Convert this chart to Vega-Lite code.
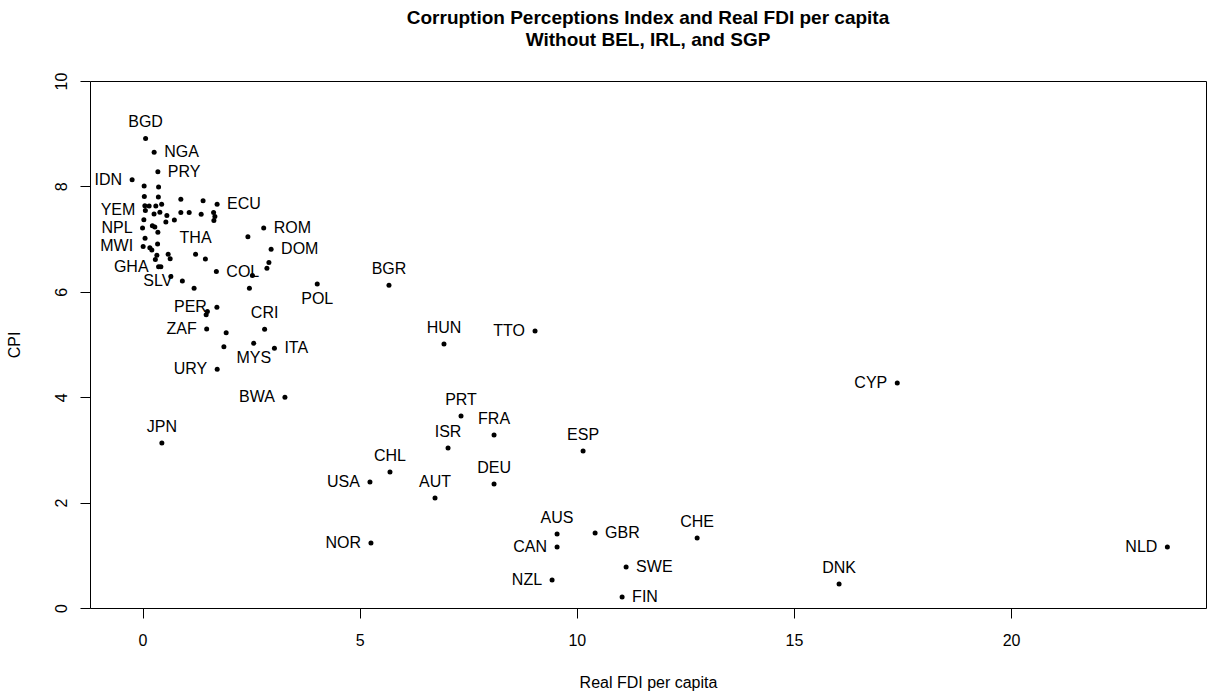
{
  "$schema": "https://vega.github.io/schema/vega-lite/v6.json",
  "width": 1116,
  "height": 527,
  "autosize": {"type": "none"},
  "padding": {"left": 90, "top": 81, "right": 4, "bottom": 88},
  "background": "white",
  "config": {
    "font": "Liberation Sans",
    "view": {"stroke": "black", "strokeWidth": 1},
    "axis": {"grid": false, "domain": false, "tickColor": "black", "tickSize": 10, "labelColor": "black", "labelFontSize": 16, "labelFont": "Liberation Sans", "titleFont": "Liberation Sans", "titleFontSize": 16, "titleFontWeight": "normal", "titleColor": "black"}
  },
  "title": {
    "text": ["Corruption Perceptions Index and Real FDI per capita", "Without BEL, IRL, and SGP"],
    "font": "Liberation Sans",
    "fontSize": 19,
    "fontWeight": "bold",
    "lineHeight": 22,
    "anchor": "middle",
    "frame": "group",
    "offset": 22,
    "color": "black"
  },
  "data": {"values": [
    {"country": "BGD", "fdi": 0.07, "cpi": 8.91},
    {"country": "NGA", "fdi": 0.267, "cpi": 8.647},
    {"country": "PRY", "fdi": 0.353, "cpi": 8.279},
    {"country": "IDN", "fdi": -0.24, "cpi": 8.127},
    {"country": "", "fdi": 0.037, "cpi": 8.008},
    {"country": "", "fdi": 0.369, "cpi": 7.989},
    {"country": "", "fdi": 0.041, "cpi": 7.808},
    {"country": "", "fdi": 0.364, "cpi": 7.799},
    {"country": "", "fdi": 0.882, "cpi": 7.757},
    {"country": "", "fdi": 1.394, "cpi": 7.729},
    {"country": "ECU", "fdi": 1.717, "cpi": 7.662},
    {"country": "", "fdi": 0.053, "cpi": 7.634},
    {"country": "", "fdi": 0.152, "cpi": 7.628},
    {"country": "", "fdi": 0.306, "cpi": 7.628},
    {"country": "", "fdi": 0.44, "cpi": 7.66},
    {"country": "YEM", "fdi": 0.065, "cpi": 7.543},
    {"country": "", "fdi": 0.265, "cpi": 7.476},
    {"country": "", "fdi": 0.399, "cpi": 7.509},
    {"country": "", "fdi": 0.56, "cpi": 7.448},
    {"country": "", "fdi": 0.882, "cpi": 7.505},
    {"country": "", "fdi": 1.074, "cpi": 7.505},
    {"country": "", "fdi": 1.35, "cpi": 7.473},
    {"country": "", "fdi": 1.636, "cpi": 7.505},
    {"country": "", "fdi": 1.666, "cpi": 7.429},
    {"country": "", "fdi": 0.03, "cpi": 7.368},
    {"country": "", "fdi": 0.537, "cpi": 7.324},
    {"country": "", "fdi": 0.733, "cpi": 7.362},
    {"country": "", "fdi": 1.643, "cpi": 7.353},
    {"country": "NPL", "fdi": 0.0, "cpi": 7.211},
    {"country": "", "fdi": 0.226, "cpi": 7.254},
    {"country": "", "fdi": 0.283, "cpi": 7.23},
    {"country": "", "fdi": 0.353, "cpi": 7.129},
    {"country": "", "fdi": 0.058, "cpi": 7.015},
    {"country": "", "fdi": 0.346, "cpi": 6.907},
    {"country": "MWI", "fdi": 0.014, "cpi": 6.86},
    {"country": "", "fdi": 0.168, "cpi": 6.837},
    {"country": "", "fdi": 0.214, "cpi": 6.793},
    {"country": "", "fdi": 0.33, "cpi": 6.692},
    {"country": "", "fdi": 0.295, "cpi": 6.613},
    {"country": "", "fdi": 0.59, "cpi": 6.711},
    {"country": "", "fdi": 0.636, "cpi": 6.628},
    {"country": "THA", "fdi": 1.221, "cpi": 6.711},
    {"country": "", "fdi": 1.447, "cpi": 6.622},
    {"country": "GHA", "fdi": 0.369, "cpi": 6.476},
    {"country": "", "fdi": 0.422, "cpi": 6.476},
    {"country": "", "fdi": 0.652, "cpi": 6.29},
    {"country": "SLV", "fdi": 0.917, "cpi": 6.205},
    {"country": "", "fdi": 1.187, "cpi": 6.066},
    {"country": "COL", "fdi": 1.7, "cpi": 6.385},
    {"country": "", "fdi": 2.426, "cpi": 7.046},
    {"country": "ROM", "fdi": 2.79, "cpi": 7.211},
    {"country": "DOM", "fdi": 2.961, "cpi": 6.806},
    {"country": "", "fdi": 2.91, "cpi": 6.556},
    {"country": "", "fdi": 2.864, "cpi": 6.446},
    {"country": "", "fdi": 2.53, "cpi": 6.309},
    {"country": "", "fdi": 2.461, "cpi": 6.066},
    {"country": "PER", "fdi": 1.712, "cpi": 5.706},
    {"country": "", "fdi": 1.493, "cpi": 5.626},
    {"country": "", "fdi": 1.465, "cpi": 5.564},
    {"country": "ZAF", "fdi": 1.477, "cpi": 5.294},
    {"country": "", "fdi": 1.926, "cpi": 5.224},
    {"country": "CRI", "fdi": 2.811, "cpi": 5.288},
    {"country": "", "fdi": 1.873, "cpi": 4.958},
    {"country": "MYS", "fdi": 2.56, "cpi": 5.023},
    {"country": "ITA", "fdi": 3.037, "cpi": 4.928},
    {"country": "URY", "fdi": 1.719, "cpi": 4.529},
    {"country": "BWA", "fdi": 3.279, "cpi": 3.998},
    {"country": "POL", "fdi": 4.023, "cpi": 6.148},
    {"country": "BGR", "fdi": 5.675, "cpi": 6.123},
    {"country": "HUN", "fdi": 6.942, "cpi": 5.009},
    {"country": "TTO", "fdi": 9.039, "cpi": 5.256},
    {"country": "CYP", "fdi": 17.38, "cpi": 4.269},
    {"country": "PRT", "fdi": 7.334, "cpi": 3.643},
    {"country": "FRA", "fdi": 8.095, "cpi": 3.283},
    {"country": "ISR", "fdi": 7.035, "cpi": 3.036},
    {"country": "ESP", "fdi": 10.145, "cpi": 2.979},
    {"country": "JPN", "fdi": 0.445, "cpi": 3.131},
    {"country": "CHL", "fdi": 5.698, "cpi": 2.581},
    {"country": "DEU", "fdi": 8.095, "cpi": 2.353},
    {"country": "USA", "fdi": 5.237, "cpi": 2.391},
    {"country": "AUT", "fdi": 6.735, "cpi": 2.087},
    {"country": "AUS", "fdi": 9.546, "cpi": 1.404},
    {"country": "GBR", "fdi": 10.422, "cpi": 1.423},
    {"country": "CHE", "fdi": 12.772, "cpi": 1.328},
    {"country": "NOR", "fdi": 5.26, "cpi": 1.233},
    {"country": "CAN", "fdi": 9.546, "cpi": 1.157},
    {"country": "NLD", "fdi": 23.6, "cpi": 1.157},
    {"country": "SWE", "fdi": 11.136, "cpi": 0.778},
    {"country": "DNK", "fdi": 16.04, "cpi": 0.455},
    {"country": "NZL", "fdi": 9.431, "cpi": 0.531},
    {"country": "FIN", "fdi": 11.044, "cpi": 0.209}
  ]},
  "encoding": {
    "x": {"field": "fdi", "type": "quantitative", "title": "Real FDI per capita",
      "scale": {"domain": [-1.21, 24.49], "nice": false, "zero": false},
      "axis": {"values": [0, 5, 10, 15, 20], "labelPadding": 14, "titlePadding": 26}},
    "y": {"field": "cpi", "type": "quantitative", "title": "CPI",
      "scale": {"domain": [0, 10], "nice": false},
      "axis": {"values": [0, 2, 4, 6, 8, 10], "labelAngle": -90, "labelAlign": "center", "labelBaseline": "bottom", "labelPadding": 11, "titlePadding": 31}}
  },
  "layer": [
    {"mark": {"type": "point", "filled": true, "shape": "circle", "size": 25, "color": "black", "opacity": 1}},
    {"transform": [{"filter": {"field": "country", "oneOf": ["IDN", "YEM", "NPL", "MWI", "GHA", "SLV", "PER", "ZAF", "URY", "BWA", "TTO", "CYP", "USA", "NOR", "CAN", "NLD", "NZL"]}}],
     "mark": {"type": "text", "align": "right", "baseline": "middle", "dx": -10, "fontSize": 16, "color": "black"},
     "encoding": {"text": {"field": "country"}}},
    {"transform": [{"filter": {"field": "country", "oneOf": ["NGA", "PRY", "ECU", "ROM", "DOM", "COL", "ITA", "GBR", "SWE", "FIN"]}}],
     "mark": {"type": "text", "align": "left", "baseline": "middle", "dx": 10, "fontSize": 16, "color": "black"},
     "encoding": {"text": {"field": "country"}}},
    {"transform": [{"filter": {"field": "country", "oneOf": ["BGD", "THA", "BGR", "CRI", "HUN", "PRT", "FRA", "ISR", "ESP", "JPN", "CHL", "DEU", "AUT", "AUS", "CHE", "DNK"]}}],
     "mark": {"type": "text", "align": "center", "baseline": "middle", "dy": -16, "fontSize": 16, "color": "black"},
     "encoding": {"text": {"field": "country"}}},
    {"transform": [{"filter": {"field": "country", "oneOf": ["POL", "MYS"]}}],
     "mark": {"type": "text", "align": "center", "baseline": "middle", "dy": 15, "fontSize": 16, "color": "black"},
     "encoding": {"text": {"field": "country"}}}
  ]
}
